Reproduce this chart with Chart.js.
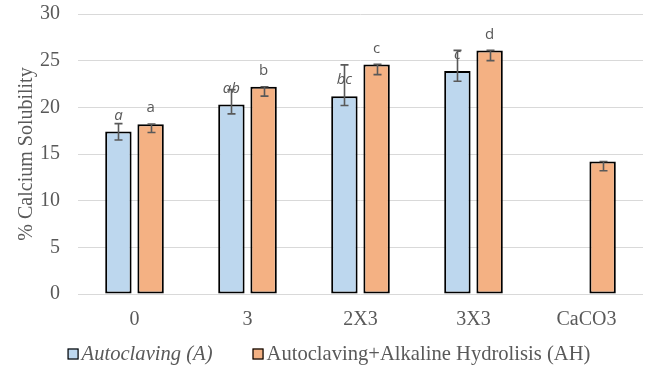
<!DOCTYPE html>
<html>
<head>
<meta charset="utf-8">
<script src="https://cdn.jsdelivr.net/npm/chart.js@4/dist/chart.umd.min.js"></script>
<style>
  html, body { margin: 0; padding: 0; background: #ffffff; }
  #wrap { width: 651px; height: 371px; }
</style>
</head>
<body>
<div id="wrap"><canvas id="chart" width="651" height="371"></canvas></div>
<script>
// Treatments on the x axis
const categories = ['0', '3', '2X3', '3X3', 'CaCO3'];

// Autoclaving (A): mean solubility and error bar extents
const autoclaving = [17.4, 20.3, 21.2, 23.9, null];
const autoclavingErrUp = [0.85, 1.6, 3.35, 2.2, null];
const autoclavingErrDown = [0.9, 1.0, 1.0, 1.1, null];
const autoclavingLetters = ['a', 'ab', 'bc', 'c', ''];

// Autoclaving + Alkaline Hydrolisis (AH)
const alkaline = [18.2, 22.2, 24.6, 26.1, 14.2];
const alkalineErrUp = [0, 0, 0, 0, 0];
const alkalineErrDown = [0.9, 1.0, 1.1, 1.1, 1.0];
const alkalineLetters = ['a', 'b', 'c', 'd', ''];

// Y axis range
const yMin = 0, yMax = 30, yStep = 5;

const TEXT_GREY = '#595959';
const SERIF = '"Liberation Serif", "Times New Roman", serif';
const SANS = '"Open Sans", "Liberation Sans", sans-serif';

const extras = [
  { up: autoclavingErrUp, down: autoclavingErrDown, letters: autoclavingLetters, italic: true },
  { up: alkalineErrUp, down: alkalineErrDown, letters: alkalineLetters, italic: false }
];

// Significance letters above each bar, then the error bars
const annotatePlugin = {
  id: 'annotate',
  afterDatasetsDraw(chart) {
    const ctx = chart.ctx;
    const y = chart.scales.y;
    chart.data.datasets.forEach((ds, i) => {
      const meta = chart.getDatasetMeta(i);
      const ex = extras[i];
      meta.data.forEach((bar, j) => {
        const v = ds.data[j];
        if (v == null) return;
        const label = ex.letters[j];
        if (label) {
          ctx.save();
          ctx.font = (ex.italic ? 'italic ' : '') + '15px ' + SANS;
          ctx.fillStyle = TEXT_GREY;
          ctx.textAlign = 'center';
          ctx.textBaseline = 'middle';
          ctx.fillText(label, bar.x, y.getPixelForValue(v) - 16);
          ctx.restore();
        }
      });
    });
    chart.data.datasets.forEach((ds, i) => {
      const meta = chart.getDatasetMeta(i);
      const ex = extras[i];
      meta.data.forEach((bar, j) => {
        const v = ds.data[j];
        if (v == null) return;
        const top = y.getPixelForValue(v + (ex.up[j] || 0));
        const bot = y.getPixelForValue(v - (ex.down[j] || 0));
        const x = Math.round(bar.x) + 0.5;
        ctx.save();
        ctx.strokeStyle = TEXT_GREY;
        ctx.lineWidth = 1.6;
        ctx.beginPath();
        ctx.moveTo(x, top); ctx.lineTo(x, bot);
        ctx.moveTo(x - 4, top); ctx.lineTo(x + 4, top);
        ctx.moveTo(x - 4, bot); ctx.lineTo(x + 4, bot);
        ctx.stroke();
        ctx.restore();
      });
    });
  }
};

// Legend row under the axis: small bordered swatch followed by the series name
const legendPlugin = {
  id: 'bottomLegend',
  afterDraw(chart) {
    const ctx = chart.ctx;
    const items = chart.data.datasets.map((ds, i) => ({
      text: ds.label,
      color: ds.backgroundColor,
      font: (extras[i].italic ? 'italic ' : '') + '20.6px ' + SERIF
    }));
    const box = 11, gapText = 3, gapItem = 40;
    let total = 0;
    items.forEach((it, k) => {
      ctx.font = it.font;
      it.w = ctx.measureText(it.text).width;
      total += box + gapText + it.w + (k ? gapItem : 0);
    });
    let x = 329 - total / 2;
    const cy = 354;
    items.forEach((it, k) => {
      if (k) x += gapItem;
      ctx.save();
      ctx.fillStyle = it.color;
      ctx.fillRect(x, cy - box / 2, box, box);
      ctx.strokeStyle = '#000000';
      ctx.lineWidth = 1.2;
      ctx.strokeRect(x + 0.5, cy - box / 2 + 0.5, box - 1, box - 1);
      ctx.font = it.font;
      ctx.fillStyle = TEXT_GREY;
      ctx.textBaseline = 'middle';
      ctx.textAlign = 'left';
      ctx.fillText(it.text, x + box + gapText, cy + 1);
      ctx.restore();
      x += box + gapText + it.w;
    });
  }
};

new Chart(document.getElementById('chart'), {
  type: 'bar',
  data: {
    labels: categories,
    datasets: [
      {
        label: 'Autoclaving (A)',
        data: autoclaving,
        backgroundColor: '#BDD7EE',
        borderColor: '#000000',
        borderWidth: 2,
        borderSkipped: false
      },
      {
        label: 'Autoclaving+Alkaline Hydrolisis (AH)',
        data: alkaline,
        backgroundColor: '#F4B183',
        borderColor: '#000000',
        borderWidth: 2,
        borderSkipped: false
      }
    ]
  },
  options: {
    responsive: false,
    animation: false,
    events: [],
    layout: { padding: { top: 14, right: 8, bottom: 37, left: 0 } },
    datasets: { bar: { categoryPercentage: 0.57, barPercentage: 0.82 } },
    plugins: {
      legend: { display: false },
      tooltip: { enabled: false }
    },
    scales: {
      x: {
        grid: { display: false, drawTicks: false },
        border: { display: false },
        ticks: {
          color: TEXT_GREY,
          font: { family: SERIF, size: 20 },
          padding: 14,
          maxRotation: 0
        },
        afterFit(scale) {
          scale.height = 40;
          scale.paddingLeft = 0;
          scale.paddingRight = 0;
        }
      },
      y: {
        min: yMin,
        max: yMax,
        grid: { color: '#d9d9d9', lineWidth: 1, drawTicks: false },
        border: { display: false },
        ticks: {
          stepSize: yStep,
          color: TEXT_GREY,
          font: { family: SERIF, size: 20 },
          padding: 18
        },
        title: {
          display: true,
          text: '% Calcium Solubility',
          color: TEXT_GREY,
          font: { family: SERIF, size: 20 },
          padding: { top: 15, bottom: 0 }
        },
        afterFit(scale) {
          scale.width = 78;
          scale.paddingTop = 0;
          scale.paddingBottom = 0;
        }
      }
    }
  },
  plugins: [annotatePlugin, legendPlugin]
});
</script>
</body>
</html>
